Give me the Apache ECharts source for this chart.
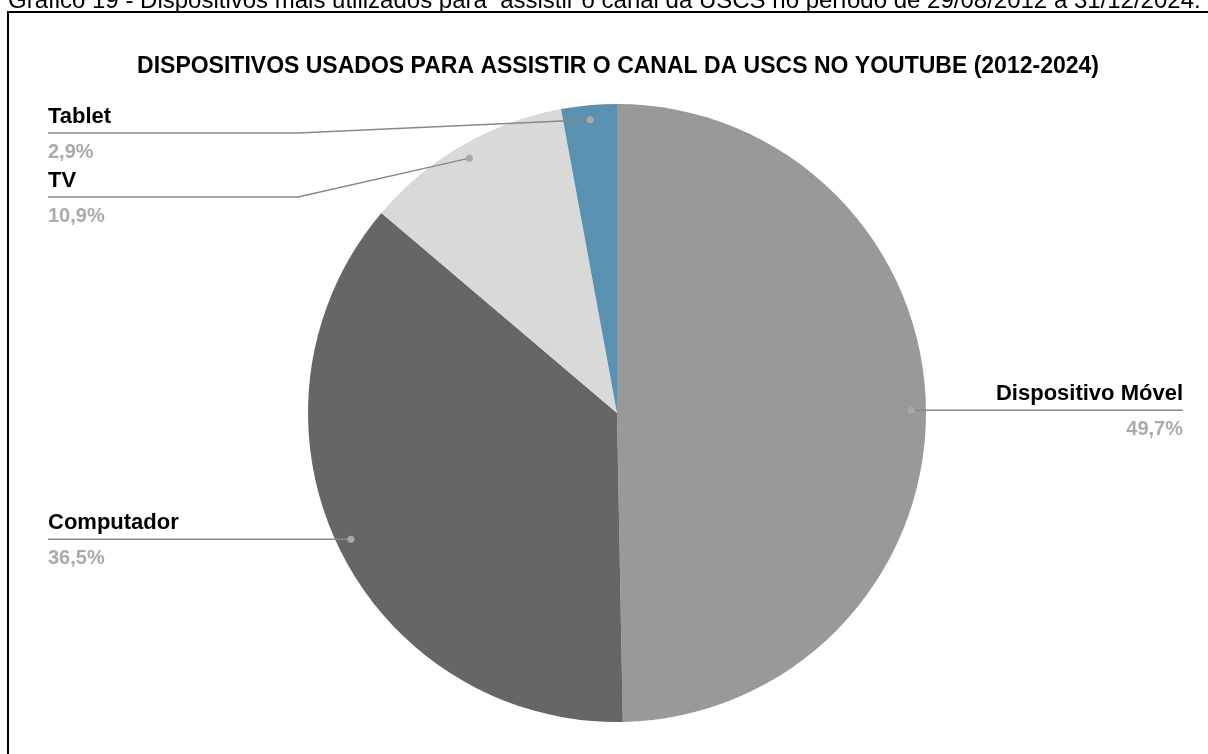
<!DOCTYPE html>
<html><head><meta charset="utf-8">
<script src="https://cdn.jsdelivr.net/npm/echarts@6/dist/echarts.min.js"></script>
<style>html,body{margin:0;padding:0;background:#fff}#c{width:1208px;height:754px}</style>
</head><body><div id="c"></div>
<script>
const captionText = 'Gráfico 19 - Dispositivos mais utilizados para  assistir o canal da USCS no período de 29/08/2012 a 31/12/2024.';
const titleText = 'DISPOSITIVOS USADOS PARA ASSISTIR O CANAL DA USCS NO YOUTUBE (2012-2024)';
const categories = ['Dispositivo Móvel', 'Computador', 'TV', 'Tablet'];
const values = [49.7, 36.5, 10.9, 2.9];
const sliceColors = ['#999999', '#666666', '#d9d9d9', '#5a91b1'];

// layout constants
const CX = 617, CY = 413, R = 309;
const DOT_RATIO = 0.953;
const LEFT_X = 48, RIGHT_X = 1183, SEG = 250, MIN_LINE_Y = 133, GAP = 64, NAME_H = 32, VAL_H = 38;
const FONT = '"Liberation Sans", Arial, sans-serif';

function fmt(v) { return v.toFixed(1).replace('.', ',') + '%'; }

// anchor dots at mid-angle of each slice (pie starts at 12 o'clock, clockwise)
const total = values.reduce((a, b) => a + b, 0);
let cum = 0;
const dots = values.map(v => {
  const a = (cum + v / 2) / total * 2 * Math.PI;
  cum += v;
  return [CX + R * DOT_RATIO * Math.sin(a), CY - R * DOT_RATIO * Math.cos(a)];
});
// label line heights: keep labels apart on each side
const lineY = new Array(values.length);
['L', 'R'].forEach(side => {
  const idx = dots.map((d, i) => i).filter(i => (dots[i][0] < CX) === (side === 'L'))
    .sort((a, b) => dots[a][1] - dots[b][1]);
  let prev = -Infinity;
  idx.forEach(i => {
    const y = Math.max(dots[i][1], prev + GAP, MIN_LINE_Y);
    lineY[i] = y; prev = y;
  });
});

const pieData = categories.map((c, i) => ({ name: c, value: values[i], itemStyle: { color: sliceColors[i] } }));

const chart = echarts.init(document.getElementById('c'), null, { renderer: 'canvas' });
chart.setOption({
  animation: false,
  backgroundColor: '#ffffff',
  graphic: [
    { type: 'rect', z: 100, shape: { x: 8, y: 12, width: 1300, height: 900 },
      style: { fill: 'none', stroke: '#000', lineWidth: 2 } },
    { type: 'text', z: 100, x: 8, y: 1.5,
      style: { text: captionText, font: '24px ' + FONT, fill: '#000', textAlign: 'left', textVerticalAlign: 'middle' } },
    { type: 'text', z: 100, x: 618, y: 67,
      style: { text: titleText, font: 'bold 23px ' + FONT, fill: '#000', textAlign: 'center', textVerticalAlign: 'middle' } }
  ].concat(dots.map(d => ({ type: 'circle', z: 100, shape: { cx: d[0], cy: d[1], r: 3.5 }, style: { fill: '#a8a8a8' } }))),
  series: [{
    type: 'pie',
    z: 2,
    center: [CX, CY],
    radius: R,
    startAngle: 90,
    clockwise: true,
    data: pieData,
    label: { show: false },
    labelLine: { show: false }
  }, {
    // transparent overlay carrying labels and leader lines above the slices
    type: 'pie',
    z: 5,
    silent: true,
    center: [CX, CY],
    radius: R,
    startAngle: 90,
    clockwise: true,
    avoidLabelOverlap: false,
    data: pieData.map(d => ({ name: d.name, value: d.value })),
    itemStyle: { color: 'rgba(0,0,0,0)' },
    label: {
      show: true,
      position: 'outside',
      formatter: p => '{n|' + p.name + '}\n{v|' + fmt(values[p.dataIndex]) + '}',
      rich: {
        n: { fontFamily: FONT, fontWeight: 'bold', fontSize: 22, color: '#000', lineHeight: NAME_H },
        v: { fontFamily: FONT, fontWeight: 'bold', fontSize: 20, color: '#aaaaaa', lineHeight: VAL_H }
      }
    },
    labelLine: { show: true, length: 20, length2: 20, lineStyle: { color: '#888888', width: 1.5 } },
    labelLayout: params => {
      const i = params.dataIndex;
      const d = dots[i], ly = lineY[i];
      const left = d[0] < CX;
      const ex = left ? LEFT_X : RIGHT_X;
      const bx = left ? LEFT_X + SEG : RIGHT_X - SEG;
      return {
        x: ex, y: ly - NAME_H, align: left ? 'left' : 'right', verticalAlign: 'top',
        labelLinePoints: [d, [bx, ly], [ex, ly]]
      };
    }
  }]
});
</script></body></html>
